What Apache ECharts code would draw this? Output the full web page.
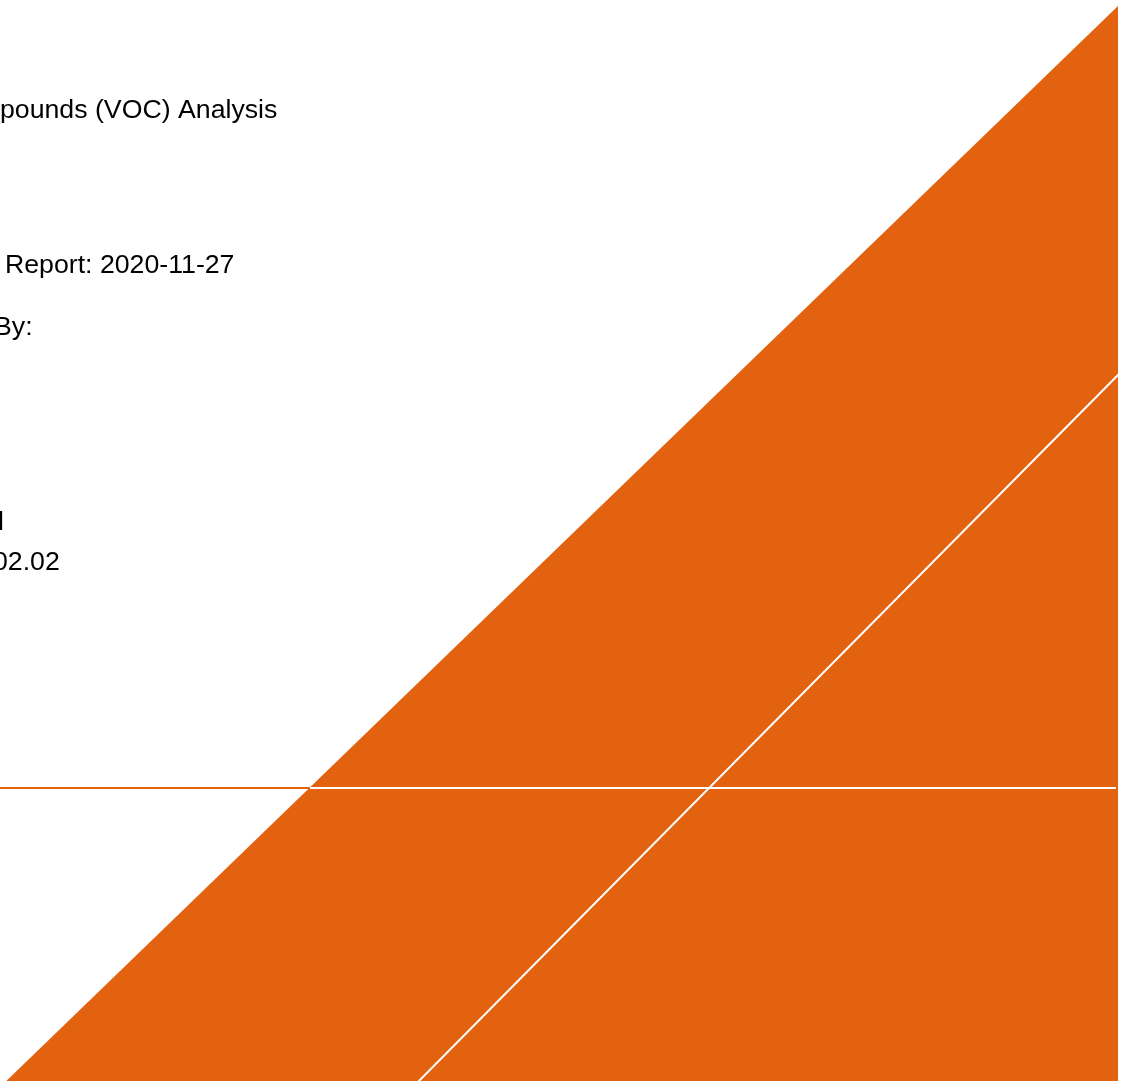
<!DOCTYPE html>
<html>
<head>
<meta charset="utf-8">
<script src="https://cdn.jsdelivr.net/npm/echarts@6/dist/echarts.min.js"></script>
<style>
html,body{margin:0;padding:0;background:#fff;}
#c{width:1133px;height:1081px;}
</style>
</head>
<body>
<div id="c"></div>
<script>
// Shapes of the cover page, in page coordinates (x right, y down)
const orangeBand = [[1118, 6], [1118, 1090], [-3, 1090]];
const whiteDiagonal = [[1119, 374], [410, 1090]];
const ruleOrange = [[0, 788], [310, 788]];
const ruleWhite = [[310, 788], [1116, 788]];
const texts = ['pounds (VOC) Analysis', 'Report: 2020-11-27', 'By:', 'l', '02.02'];
const textPos = [[0, 111], [5, 266], [-6, 328], [-2, 523], [-7, 563]];

const ORANGE = '#E36210';
const chart = echarts.init(document.getElementById('c'), null, {renderer: 'canvas'});
chart.setOption({
  animation: false,
  backgroundColor: '#ffffff',
  grid: {left: 0, right: 0, top: 0, bottom: 0},
  xAxis: {type: 'value', min: 0, max: 1133, show: false},
  yAxis: {type: 'value', min: 0, max: 1081, inverse: true, show: false},
  series: [
    {
      type: 'custom',
      silent: true,
      clip: true,
      data: [0],
      renderItem: function (params, api) {
        const pts = orangeBand.map(p => api.coord(p));
        return {type: 'polygon', shape: {points: pts}, style: {fill: ORANGE}};
      },
      z: 1
    },
    {
      type: 'line', data: ruleOrange, symbol: 'none', silent: true,
      lineStyle: {color: ORANGE, width: 2}, z: 3
    },
    {
      type: 'line', data: ruleWhite, symbol: 'none', silent: true,
      lineStyle: {color: '#ffffff', width: 2}, z: 3
    },
    {
      type: 'line', data: whiteDiagonal, symbol: 'none', silent: true,
      lineStyle: {color: '#ffffff', width: 2}, z: 3
    }
  ],
  graphic: texts.map((t, i) => ({
    type: 'text',
    left: textPos[i][0] >= 0 ? textPos[i][0] : undefined,
    x: textPos[i][0] < 0 ? textPos[i][0] : undefined,
    y: textPos[i][1],
    style: {
      text: t,
      fill: '#000000',
      font: '26.7px "Liberation Sans", Arial, sans-serif',
      verticalAlign: 'middle',
      align: 'left'
    }
  }))
});
</script>
</body>
</html>
